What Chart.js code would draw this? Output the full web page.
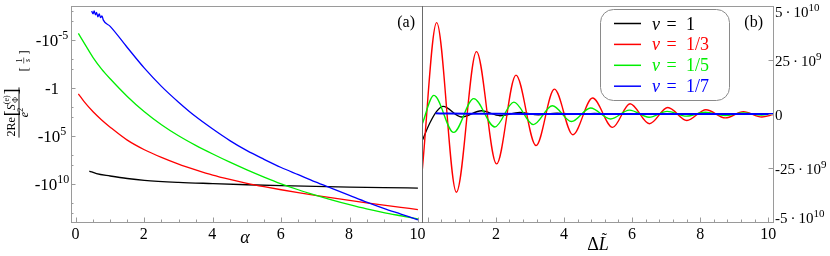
<!DOCTYPE html>
<html>
<head>
<meta charset="utf-8">
<script src="https://cdn.jsdelivr.net/npm/chart.js@4/dist/chart.umd.min.js"></script>
<style>
html, body { margin: 0; padding: 0; background: #fff; }
#wrap { position: relative; width: 830px; height: 256px; }
canvas { position: absolute; left: 0; top: 0; }
</style>
</head>
<body>
<div id="wrap">
  <canvas id="chartA" width="830" height="256"></canvas>
  <canvas id="chartB" width="830" height="256"></canvas>
</div>
<script>
// ---- panel (a): alpha vs log10 of -2Re[S]/e^2 ----
const alphaNu1 = [0.39, 0.6, 1.0, 1.5, 2.0, 3.0, 4.0, 5.0, 6.0, 7.0, 8.0, 9.0, 10.0];
const logNu1 = [8.67, 8.95, 9.19, 9.45, 9.64, 9.85, 9.98, 10.1, 10.2, 10.27, 10.34, 10.4, 10.45];

const alphaNu3 = [0.07, 0.25, 0.5, 0.75, 1.0, 1.5, 2.0, 2.5, 3.0, 3.5, 4.0, 4.5, 5.0, 5.5, 6.0, 6.5, 7.0, 7.5, 8.0, 8.5, 9.0, 9.5, 10.0];
const logNu3 = [0.63, 1.5, 2.5, 3.35, 4.1, 5.45, 6.45, 7.25, 7.95, 8.55, 9.1, 9.55, 9.95, 10.3, 10.62, 10.92, 11.2, 11.47, 11.73, 11.98, 12.22, 12.45, 12.68];

const alphaNu5 = [0.07, 0.25, 0.5, 0.75, 1.0, 1.5, 2.0, 2.5, 3.0, 3.5, 4.0, 4.5, 5.0, 5.5, 6.0, 6.5, 7.0, 7.5, 8.0, 8.5, 9.0, 9.5, 10.0];
const logNu5 = [-5.66, -4.6, -3.15, -1.95, -0.94, 0.9, 2.5, 3.85, 5.0, 6.0, 6.9, 7.75, 8.55, 9.3, 10.0, 10.62, 11.18, 11.7, 12.18, 12.62, 13.0, 13.33, 13.65];

const alphaNu7 = [0.46, 0.5, 0.53, 0.57, 0.6, 0.64, 0.68, 0.72, 0.76, 0.8, 1.0, 1.5, 2.0, 2.5, 3.0, 3.5, 4.0, 4.5, 5.0, 5.5, 6.0, 6.5, 7.0, 7.5, 8.0, 8.5, 9.0, 9.5, 10.0];
const logNu7 = [-8.0, -7.7, -8.0, -7.6, -7.85, -7.4, -7.7, -7.3, -7.5, -7.05, -6.4, -4.2, -2.05, -0.15, 1.5, 3.0, 4.3, 5.5, 6.55, 7.45, 8.3, 9.05, 9.8, 10.5, 11.2, 11.9, 12.55, 13.15, 13.75];

// ---- panel (b): Delta L vs value, in units of 1e9 ----
const dlNu1 = [-0.17, 0.06, 0.26, 0.45, 0.99, 1.58, 2.12, 2.7, 3.25, 3.8, 4.35, 4.9, 5.5, 6.2, 7.0, 8.0, 9.0, 10.14];
const valNu1 = [-12.6, -4.2, 1.2, 3.5, -1.4, 1.5, -0.8, 0.75, -0.4, 0.45, -0.2, 0.3, -0.1, 0.15, 0.05, 0.05, 0.02, 0];

const dlNu3 = [-0.17, 0.26, 0.84, 1.43, 2.02, 2.59, 3.18, 3.72, 4.26, 4.84, 5.43, 5.94, 6.51, 7.05, 7.61, 8.17, 8.74, 9.27, 9.81, 10.14];
const valNu3 = [-27.2, 42.3, -36.2, 28.9, -23.1, 18.0, -14.6, 11.5, -9.6, 7.4, -6.2, 4.75, -4.5, 3.0, -3.0, 2.0, -1.8, 1.1, -1.4, -0.3];

const dlNu5 = [-0.17, 0.18, 0.76, 1.35, 1.97, 2.53, 3.1, 3.66, 4.22, 4.78, 5.37, 5.92, 6.5, 7.03, 7.6, 8.15, 8.73, 9.27, 9.8, 10.14];
const valNu5 = [-4.9, 8.6, -8.5, 7.1, -6.0, 5.5, -4.9, 3.8, -3.5, 2.8, -2.3, 1.8, -1.5, 1.2, -1.0, 0.8, -0.7, 0.5, -0.45, 0];

const dlNu7 = [0.23, 0.6, 1.2, 2.0, 3.0, 4.5, 6.0, 8.0, 10.14];
const valNu7 = [0.3, 0.2, 0.12, 0.08, 0.05, 0.03, 0.02, 0.01, 0];

// ---- legend / ticks ----
const nuValues = ['1', '1/3', '1/5', '1/7'];
const lineColors = ['#000000', '#ff0000', '#00ee00', '#0000ff'];

const alphaTicks = [0, 2, 4, 6, 8, 10];
const logTicks = [-5, 0, 5, 10];
const logTickLabels = [['-10', '-5'], ['-1', ''], ['-10', '5'], ['-10', '10']];
const logMinor = [-8, -7, -3, -2, 2, 3, 7, 8, 12, 13];

const dlTicks = [0, 2, 4, 6, 8, 10];
const dlTickLabels = ['', '2', '4', '6', '8', '10'];
const valTicks = [50, 25, 0, -25, -50];
const valTickLabels = [['5\u2009·\u200910', '10'], ['25\u2009·\u200910', '9'], ['0', ''], ['-25\u2009·\u200910', '9'], ['-5\u2009·\u200910', '10']];

const SERIF = '"Liberation Serif", "DejaVu Serif", serif';
function setFont(ctx, size, italic) {
    ctx.font = (italic ? 'italic ' : '') + size + 'px ' + SERIF;
}
function partsWidth(ctx, parts) {
    let w = 0;
    parts.forEach(p => { setFont(ctx, p.size, p.italic); w += ctx.measureText(p.text).width; });
    return w;
}
function drawParts(ctx, parts, x, y, align) {
    const w = partsWidth(ctx, parts);
    let cx = align === 'right' ? x - w : align === 'center' ? x - w / 2 : x;
    ctx.textAlign = 'left';
    ctx.textBaseline = 'alphabetic';
    parts.forEach(p => {
        setFont(ctx, p.size, p.italic);
        ctx.fillText(p.text, cx, y - (p.rise || 0));
        cx += ctx.measureText(p.text).width;
    });
    return w;
}
function line(ctx, x1, y1, x2, y2) {
    ctx.beginPath(); ctx.moveTo(x1, y1); ctx.lineTo(x2, y2); ctx.stroke();
}

function series(xs, ys, color, width, order, f) {
    return {
        data: xs.map((v, i) => ({ x: v, y: f(ys[i]) })),
        borderColor: color,
        borderWidth: width,
        pointRadius: 0,
        fill: false,
        cubicInterpolationMode: 'monotone',
        order: order
    };
}

function drawYTitle(ctx) {
    ctx.save();
    ctx.translate(18.5, 112.5);
    ctx.rotate(-Math.PI / 2);
    ctx.fillStyle = '#000';
    ctx.strokeStyle = '#000';
    ctx.textAlign = 'left';
    ctx.textBaseline = 'alphabetic';
    // numerator 2Re[S^(e)_Phi]
    setFont(ctx, 12, false); const w1 = ctx.measureText('2Re').width;
    setFont(ctx, 18, false); const wb = ctx.measureText('[').width;
    setFont(ctx, 12, true); const wS = ctx.measureText('S').width;
    setFont(ctx, 8, false); const we = ctx.measureText('(e)').width;
    const total = w1 + 1 + wb + wS + we + 1 + wb;
    let cx = -total / 2;
    const by = -4;
    setFont(ctx, 12, false); ctx.fillText('2Re', cx, by); cx += w1 + 1;
    setFont(ctx, 18, false); ctx.fillText('[', cx, by + 2.5); cx += wb;
    setFont(ctx, 12, true); ctx.fillText('S', cx, by); cx += wS;
    setFont(ctx, 8, false); ctx.fillText('(e)', cx, by - 6);
    ctx.fillText('Φ', cx + 1.5, by + 3); cx += we + 1;
    setFont(ctx, 18, false); ctx.fillText(']', cx, by + 2.5);
    ctx.lineWidth = 0.9;
    line(ctx, -total / 2 - 1, 0.5, total / 2 + 1, 0.5);
    // denominator e^2
    drawParts(ctx, [{ text: 'e', size: 12, italic: true }, { text: '2', size: 8, rise: 5 }], 0, 9.5, 'center');
    // [1/s]
    setFont(ctx, 13, false);
    ctx.fillText('[', 41, 9.5);
    ctx.fillText(']', 58, 9.5);
    setFont(ctx, 8, false);
    ctx.textAlign = 'center';
    ctx.fillText('1', 52, 3.5);
    setFont(ctx, 8, true);
    ctx.fillText('s', 52, 11);
    ctx.lineWidth = 0.6;
    line(ctx, 49, 5.2, 55, 5.2);
    ctx.restore();
}

const frameColor = '#9a9a9a';

const panelA = {
    id: 'panelA',
    afterDraw(chart) {
        const { ctx, chartArea: a, scales: { x, y } } = chart;
        ctx.save();
        ctx.strokeStyle = frameColor;
        ctx.lineWidth = 1;
        line(ctx, a.left + 0.5, a.top, a.left + 0.5, a.bottom);
        line(ctx, a.left, a.bottom + 0.5, a.right, a.bottom + 0.5);
        line(ctx, a.left, a.top + 0.5, a.right, a.top + 0.5);
        // bottom ticks (inward)
        alphaTicks.forEach(v => {
            const px = Math.round(x.getPixelForValue(v)) + 0.5;
            line(ctx, px, a.bottom, px, a.bottom - 4.5);
        });
        for (let k = 0; k <= 20; k++) {
            if (k % 4 === 0) continue;
            const px = Math.round(x.getPixelForValue(k * 0.5)) + 0.5;
            line(ctx, px, a.bottom, px, a.bottom - 2.5);
        }
        // left ticks
        logTicks.forEach(v => {
            const py = Math.round(y.getPixelForValue(Math.pow(10, v))) + 0.5;
            line(ctx, a.left, py, a.left + 4.5, py);
        });
        logMinor.forEach(v => {
            const py = Math.round(y.getPixelForValue(Math.pow(10, v))) + 0.5;
            line(ctx, a.left, py, a.left + 2.5, py);
        });
        // labels
        ctx.fillStyle = '#000';
        alphaTicks.forEach(v => {
            drawParts(ctx, [{ text: String(v), size: 16 }], x.getPixelForValue(v) - 0.5, 238.5, 'center');
        });
        logTicks.forEach((v, i) => {
            const py = y.getPixelForValue(Math.pow(10, v));
            const [base, sup] = logTickLabels[i];
            drawParts(ctx, [{ text: base, size: 17 }, { text: sup, size: 12, rise: 7.5 }], 52, py + 6.5, 'center');
        });
        // axis titles and panel label
        drawParts(ctx, [{ text: 'α', size: 18, italic: true }], 245, 243, 'center');
        drawParts(ctx, [{ text: '(a)', size: 16 }], 415, 27, 'right');
        drawYTitle(ctx);
        ctx.restore();
    }
};

const panelB = {
    id: 'panelB',
    afterDraw(chart) {
        const { ctx, chartArea: a, scales: { x, y } } = chart;
        ctx.save();
        ctx.lineWidth = 1;
        ctx.strokeStyle = frameColor;
        line(ctx, a.left, a.top + 0.5, a.right, a.top + 0.5);
        line(ctx, a.left, a.bottom + 0.5, a.right, a.bottom + 0.5);
        line(ctx, a.right + 0.5, a.top, a.right + 0.5, a.bottom + 1);
        ctx.strokeStyle = '#6a6a6a';
        line(ctx, a.left + 0.5, a.top, a.left + 0.5, a.bottom + 1);
        ctx.strokeStyle = frameColor;
        dlTicks.forEach(v => {
            const px = Math.round(x.getPixelForValue(v)) + 0.5;
            line(ctx, px, a.bottom, px, a.bottom - 4.5);
        });
        for (let k = 0; k <= 25; k++) {
            if (k % 5 === 0) continue;
            const px = Math.round(x.getPixelForValue(k * 0.4)) + 0.5;
            line(ctx, px, a.bottom, px, a.bottom - 2.5);
        }
        valTicks.forEach(v => {
            const py = Math.round(y.getPixelForValue(v * 1e9)) + 0.5;
            line(ctx, a.right, py, a.right - 4.5, py);
        });
        ctx.fillStyle = '#000';
        dlTicks.forEach((v, i) => {
            drawParts(ctx, [{ text: dlTickLabels[i], size: 16 }], x.getPixelForValue(v), 238.5, 'center');
        });
        valTicks.forEach((v, i) => {
            let cy = y.getPixelForValue(v * 1e9) + 1;
            cy = Math.min(Math.max(cy, a.top + 6), a.bottom - 4);
            const [base, sup] = valTickLabels[i];
            drawParts(ctx, [{ text: base, size: 15 }, { text: sup, size: 11, rise: 6.5 }], a.right + 2, cy + 5, 'left');
        });
        // axis title Delta L-tilde
        const wD = drawParts(ctx, [{ text: 'Δ', size: 18 }, { text: 'L', size: 18, italic: true }], 598, 250, 'center');
        setFont(ctx, 16, false);
        ctx.textAlign = 'center';
        ctx.fillText('˜', 598 + wD / 2 - 4.5, 244);
        // panel label
        drawParts(ctx, [{ text: '(b)', size: 16 }], 763, 27, 'right');
        // legend box
        const lx = 600.5, ly = 9.5, lw = 129, lh = 91, r = 13;
        ctx.beginPath();
        ctx.moveTo(lx + r, ly);
        ctx.arcTo(lx + lw, ly, lx + lw, ly + lh, r);
        ctx.arcTo(lx + lw, ly + lh, lx, ly + lh, r);
        ctx.arcTo(lx, ly + lh, lx, ly, r);
        ctx.arcTo(lx, ly, lx + lw, ly, r);
        ctx.closePath();
        ctx.fillStyle = '#fff';
        ctx.fill();
        ctx.strokeStyle = '#8a8a8a';
        ctx.lineWidth = 1;
        ctx.stroke();
        chart.data.datasets.forEach((ds, i) => {
            const rowY = 23.5 + i * 20.9;
            ctx.strokeStyle = ds.borderColor;
            ctx.lineWidth = 1.5;
            line(ctx, 614, rowY, 641, rowY);
            ctx.fillStyle = ds.borderColor;
            drawParts(ctx, [{ text: 'ν', size: 18, italic: true }], 652, rowY + 6, 'left');
            drawParts(ctx, [{ text: '=', size: 18 }], 666.5, rowY + 6, 'left');
            drawParts(ctx, [{ text: nuValues[i], size: 18 }], 686, rowY + 6, 'left');
        });
        ctx.restore();
    }
};

const hidden = { grid: { display: false }, border: { display: false }, ticks: { display: false } };
const pow10 = v => Math.pow(10, v);
const times1e9 = v => v * 1e9;

new Chart(document.getElementById('chartA'), {
    type: 'line',
    data: {
        datasets: [
            series(alphaNu1, logNu1, lineColors[0], 1.3, 4, pow10),
            series(alphaNu3, logNu3, lineColors[1], 1.3, 3, pow10),
            series(alphaNu5, logNu5, lineColors[2], 1.3, 2, pow10),
            series(alphaNu7, logNu7, lineColors[3], 1.3, 1, pow10)
        ]
    },
    options: {
        responsive: false,
        animation: false,
        events: [],
        layout: { padding: { left: 0, right: 408, top: 6, bottom: 0 }, autoPadding: false },
        plugins: { legend: { display: false }, tooltip: { enabled: false } },
        scales: {
            x: { type: 'linear', min: -0.146, max: 10.12, ...hidden, afterFit: s => { s.height = 34; } },
            y: { type: 'logarithmic', reverse: true, min: Math.pow(10, -8.52), max: Math.pow(10, 13.98), ...hidden, afterFit: s => { s.width = 71; } }
        }
    },
    plugins: [panelA]
});

new Chart(document.getElementById('chartB'), {
    type: 'line',
    data: {
        datasets: [
            series(dlNu1, valNu1, lineColors[0], 1.3, 4, times1e9),
            series(dlNu3, valNu3, lineColors[1], 1.4, 3, times1e9),
            series(dlNu5, valNu5, lineColors[2], 1.4, 2, times1e9),
            series(dlNu7, valNu7, lineColors[3], 2.0, 1, times1e9)
        ]
    },
    options: {
        responsive: false,
        animation: false,
        events: [],
        layout: { padding: { left: 422, right: 0, top: 6, bottom: 0 }, autoPadding: false },
        plugins: { legend: { display: false }, tooltip: { enabled: false } },
        scales: {
            x: { type: 'linear', min: -0.17, max: 10.14, ...hidden, afterFit: s => { s.height = 34; } },
            y: { type: 'linear', position: 'right', min: -5e10, max: 5e10, ...hidden, afterFit: s => { s.width = 57; } }
        }
    },
    plugins: [panelB]
});
</script>
</body>
</html>
